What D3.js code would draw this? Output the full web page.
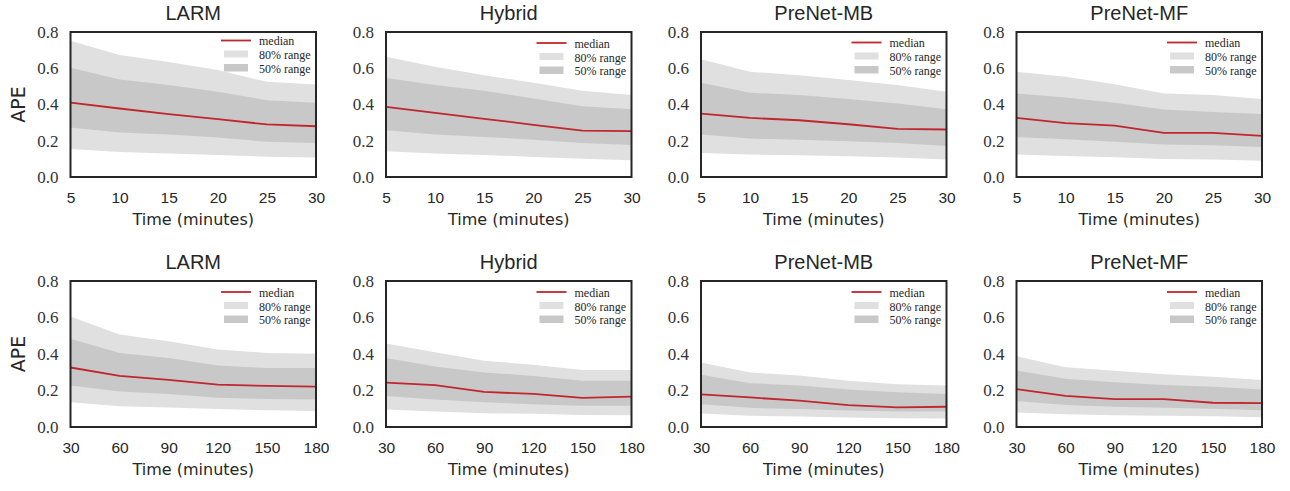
<!DOCTYPE html>
<html>
<head>
<meta charset="utf-8">
<script src="https://cdn.jsdelivr.net/npm/d3@7"></script>
<style>
  html, body { margin: 0; padding: 0; background: #fff; }
  svg { display: block; }
</style>
</head>
<body>
<svg id="chart" width="1290" height="491"></svg>
<script>
// ---------------- DATA ----------------
const titles = ["LARM", "Hybrid", "PreNet-MB", "PreNet-MF"];
const shortTimes = [5, 10, 15, 20, 25, 30];
const longTimes = [30, 60, 90, 120, 150, 180];
const yTicks = [0.0, 0.2, 0.4, 0.6, 0.8];
const legendLabels = ["median", "80% range", "50% range"];
const yLabel = "APE";
const xLabel = "Time (minutes)";

// short horizon (5-30 min), one row per model in titles order
const shortP90 = [
  [0.752, 0.673, 0.634, 0.590, 0.525, 0.510],
  [0.664, 0.608, 0.562, 0.520, 0.476, 0.452],
  [0.649, 0.581, 0.562, 0.535, 0.507, 0.470],
  [0.581, 0.553, 0.512, 0.461, 0.452, 0.431]
];
const shortP75 = [
  [0.603, 0.538, 0.507, 0.470, 0.424, 0.410],
  [0.546, 0.507, 0.476, 0.433, 0.390, 0.374],
  [0.520, 0.465, 0.452, 0.430, 0.406, 0.374],
  [0.461, 0.439, 0.410, 0.372, 0.359, 0.347]
];
const shortMedian = [
  [0.410, 0.378, 0.347, 0.319, 0.290, 0.280],
  [0.387, 0.354, 0.321, 0.288, 0.256, 0.253],
  [0.350, 0.326, 0.313, 0.291, 0.265, 0.262],
  [0.326, 0.297, 0.284, 0.243, 0.243, 0.227]
];
const shortP25 = [
  [0.273, 0.245, 0.234, 0.218, 0.194, 0.188],
  [0.258, 0.234, 0.221, 0.206, 0.188, 0.177],
  [0.234, 0.212, 0.206, 0.197, 0.188, 0.171],
  [0.221, 0.208, 0.195, 0.179, 0.175, 0.166]
];
const shortP10 = [
  [0.155, 0.138, 0.129, 0.122, 0.112, 0.107],
  [0.142, 0.129, 0.122, 0.111, 0.101, 0.092],
  [0.133, 0.124, 0.120, 0.114, 0.107, 0.096],
  [0.124, 0.116, 0.109, 0.100, 0.096, 0.090]
];

// long horizon (30-180 min)
const longP90 = [
  [0.605, 0.507, 0.470, 0.424, 0.406, 0.402],
  [0.457, 0.410, 0.363, 0.341, 0.313, 0.313],
  [0.354, 0.299, 0.282, 0.254, 0.234, 0.227],
  [0.387, 0.328, 0.308, 0.289, 0.276, 0.258]
];
const longP75 = [
  [0.483, 0.406, 0.378, 0.337, 0.323, 0.323],
  [0.378, 0.332, 0.299, 0.280, 0.254, 0.254],
  [0.286, 0.240, 0.227, 0.206, 0.190, 0.181],
  [0.310, 0.264, 0.245, 0.230, 0.221, 0.206]
];
const longMedian = [
  [0.326, 0.280, 0.258, 0.232, 0.225, 0.221],
  [0.243, 0.229, 0.192, 0.181, 0.160, 0.166],
  [0.179, 0.162, 0.144, 0.120, 0.107, 0.111],
  [0.208, 0.171, 0.153, 0.153, 0.133, 0.131]
];
const longP25 = [
  [0.227, 0.194, 0.181, 0.160, 0.153, 0.151],
  [0.170, 0.151, 0.135, 0.125, 0.116, 0.116],
  [0.125, 0.105, 0.098, 0.090, 0.085, 0.085],
  [0.142, 0.120, 0.111, 0.105, 0.100, 0.092]
];
const longP10 = [
  [0.135, 0.114, 0.107, 0.098, 0.092, 0.088],
  [0.096, 0.085, 0.076, 0.072, 0.066, 0.065],
  [0.074, 0.061, 0.057, 0.052, 0.048, 0.046],
  [0.079, 0.070, 0.065, 0.061, 0.059, 0.053]
];

// ---------------- LAYOUT / STYLE ----------------
const colLeft = [70.5, 386, 701, 1016.5];
const panelW = 245.5;
const rowTop = [32, 281];
const panelH = [145, 146];
const legendDy = [[8.5, 11, 10.5, 10.5], [11, 11, 11, 11]];

const COLOR_80 = "#e0e0e0";
const COLOR_50 = "#c8c8c8";
const COLOR_MED = "#c0262d";
const FRAME = "#262626";

const rows = [
  { times: shortTimes, p90: shortP90, p75: shortP75, med: shortMedian, p25: shortP25, p10: shortP10 },
  { times: longTimes,  p90: longP90,  p75: longP75,  med: longMedian,  p25: longP25,  p10: longP10 }
];

const svg = d3.select("#chart");

rows.forEach((row, r) => {
  titles.forEach((title, c) => {
    const x0 = colLeft[c], y0 = rowTop[r], h = panelH[r];
    const g = svg.append("g").attr("transform", `translate(${x0},${y0})`);

    const x = d3.scaleLinear()
      .domain([row.times[0], row.times[row.times.length - 1]])
      .range([0, panelW]);
    const y = d3.scaleLinear().domain([0, 0.8]).range([h, 0]);

    const pts = row.times.map((t, i) => ({
      t, p90: row.p90[c][i], p75: row.p75[c][i], m: row.med[c][i],
      p25: row.p25[c][i], p10: row.p10[c][i]
    }));

    g.append("path").datum(pts)
      .attr("fill", COLOR_80)
      .attr("d", d3.area().x(d => x(d.t)).y0(d => y(d.p10)).y1(d => y(d.p90)));
    g.append("path").datum(pts)
      .attr("fill", COLOR_50)
      .attr("d", d3.area().x(d => x(d.t)).y0(d => y(d.p25)).y1(d => y(d.p75)));
    g.append("path").datum(pts)
      .attr("fill", "none")
      .attr("stroke", COLOR_MED)
      .attr("stroke-width", 1.8)
      .attr("d", d3.line().x(d => x(d.t)).y(d => y(d.m)));

    // frame
    g.append("rect")
      .attr("x", 0).attr("y", 0).attr("width", panelW).attr("height", h)
      .attr("fill", "none").attr("stroke", FRAME).attr("stroke-width", 2);

    // axes
    const yAxis = g.append("g")
      .call(d3.axisLeft(y).tickValues(yTicks).tickFormat(d3.format(".1f")).tickSize(0).tickPadding(12));
    yAxis.select(".domain").remove();
    yAxis.selectAll("text")
      .attr("font-family", "'Liberation Serif', 'DejaVu Serif', serif")
      .attr("font-size", 17).attr("fill", "#333");

    const xAxis = g.append("g").attr("transform", `translate(0,${h})`)
      .call(d3.axisBottom(x).tickValues(row.times).tickFormat(d3.format("d")).tickSize(0).tickPadding(15));
    xAxis.select(".domain").remove();
    xAxis.selectAll("text")
      .attr("font-family", "'Liberation Sans', Arial, sans-serif")
      .attr("font-size", 15.5).attr("fill", "#262626");

    // x label
    g.append("text")
      .attr("x", panelW / 2).attr("y", h + 48)
      .attr("text-anchor", "middle")
      .attr("font-family", "'DejaVu Sans', sans-serif")
      .attr("font-size", 16).attr("fill", "#262626")
      .text(xLabel);

    // title
    g.append("text")
      .attr("x", panelW / 2).attr("y", -12.3)
      .attr("text-anchor", "middle")
      .attr("font-family", "'Liberation Sans', Arial, sans-serif")
      .attr("font-size", 20).attr("fill", "#262626")
      .text(title);

    // y label
    if (c === 0) {
      g.append("text")
        .attr("transform", `translate(${-45.5},${h / 2}) rotate(-90)`)
        .attr("text-anchor", "middle")
        .attr("font-family", "'DejaVu Sans', sans-serif")
        .attr("font-size", 19).attr("fill", "#262626")
        .text(yLabel);
    }

    // legend
    const lg = g.append("g").attr("transform", `translate(${panelW - 95},${legendDy[r][c]})`);
    const fontL = "'Liberation Serif', 'DejaVu Serif', serif";
    lg.append("line").attr("x1", 0).attr("x2", 30).attr("y1", 0).attr("y2", 0)
      .attr("stroke", COLOR_MED).attr("stroke-width", 1.8);
    lg.append("rect").attr("x", 3).attr("y", 10).attr("width", 24).attr("height", 7)
      .attr("fill", COLOR_80);
    lg.append("rect").attr("x", 3).attr("y", 23.5).attr("width", 24).attr("height", 7.5)
      .attr("fill", COLOR_50);
    legendLabels.forEach((lab, i) => {
      lg.append("text")
        .attr("x", 38).attr("y", 1 + i * 13.8).attr("dy", "0.32em")
        .attr("font-family", fontL).attr("font-size", 12).attr("fill", "#262626")
        .text(lab);
    });
  });
});
</script>
</body>
</html>
